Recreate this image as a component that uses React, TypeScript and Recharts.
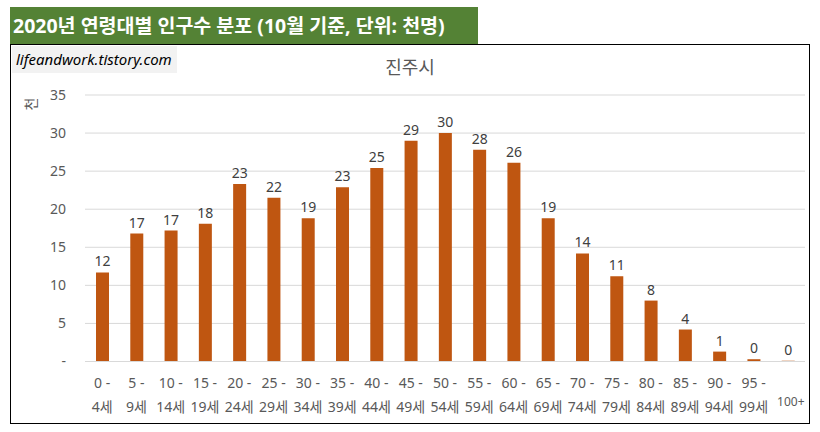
import { BarChart, Bar, XAxis, YAxis, CartesianGrid, LabelList } from 'recharts';

const ageGroups = [
  '0 - 4세', '5 - 9세', '10 - 14세', '15 - 19세', '20 - 24세', '25 - 29세', '30 - 34세',
  '35 - 39세', '40 - 44세', '45 - 49세', '50 - 54세', '55 - 59세', '60 - 64세', '65 - 69세',
  '70 - 74세', '75 - 79세', '80 - 84세', '85 - 89세', '90 - 94세', '95 - 99세', '100+',
];

// 천명 단위
const population = [
  11.7, 16.8, 17.2, 18.1, 23.3, 21.5, 18.8, 22.9, 25.4, 29.0, 30.0,
  27.8, 26.1, 18.8, 14.2, 11.2, 8.0, 4.2, 1.3, 0.3, 0.1,
];

const yTicks = [0, 5, 10, 15, 20, 25, 30, 35];

const data = ageGroups.map((age, i) => ({ age, value: population[i] }));

const FONT = '"Noto Sans", "Noto Sans CJK KR", sans-serif';
const GRAY = '#595959';

const AgeTick = (props: any) => {
  const { x, y, payload } = props;
  const label: string = payload.value;
  const parts = label.split(' - ');
  if (parts.length < 2) {
    return (
      <text x={x + 3} y={y + 44} textAnchor="middle" fontSize={12} fill={GRAY} fontFamily={FONT}>
        {label}
      </text>
    );
  }
  return (
    <g>
      <text x={x} y={y + 26.5} textAnchor="middle" fontSize={14} fill={GRAY} fontFamily={FONT}>
        {parts[0] + ' -'}
      </text>
      <text x={x} y={y + 50.5} textAnchor="middle" fontSize={14} fill={GRAY} fontFamily={FONT}>
        {parts[1]}
      </text>
    </g>
  );
};

export default function App() {
  return (
    <div style={{ position: 'absolute', left: 0, top: 0, width: 820, height: 432, background: '#fff', fontFamily: FONT }}>
      {/* frame */}
      <div
        style={{
          position: 'absolute',
          left: 10,
          top: 44,
          width: 800,
          height: 380,
          border: '1.5px solid #000',
          boxSizing: 'border-box',
        }}
      />

      {/* header */}
      <div
        style={{
          position: 'absolute',
          left: 10,
          top: 7,
          width: 468,
          height: 37,
          background: '#548235',
          color: '#fff',
          fontWeight: 700,
          fontSize: 19.5,
          lineHeight: '37px',
          paddingLeft: 3,
          boxSizing: 'border-box',
          whiteSpace: 'nowrap',
        }}
      >
        2020년 연령대별 인구수 분포 (10월 기준, 단위: 천명)
      </div>

      {/* watermark */}
      <div
        style={{
          position: 'absolute',
          left: 12,
          top: 46,
          width: 165,
          height: 27,
          background: '#f2f2f2',
          fontStyle: 'italic',
          fontSize: 15,
          lineHeight: '27px',
          paddingLeft: 4,
          boxSizing: 'border-box',
          color: '#000',
          whiteSpace: 'nowrap',
        }}
      >
        lifeandwork.tistory.com
      </div>

      {/* title */}
      <div
        style={{
          position: 'absolute',
          left: 10,
          width: 800,
          top: 54,
          textAlign: 'center',
          fontSize: 18,
          lineHeight: '26px',
          color: GRAY,
        }}
      >
        진주시
      </div>

      {/* unit label */}
      <div
        style={{
          position: 'absolute',
          left: 22,
          top: 95,
          width: 18,
          height: 18,
          fontSize: 14,
          lineHeight: '18px',
          textAlign: 'center',
          color: GRAY,
          transform: 'rotate(-90deg)',
        }}
      >
        천
      </div>

      <div style={{ position: 'absolute', left: 10, top: 44 }}>
        <BarChart
          width={800}
          height={380}
          data={data}
          margin={{ top: 51, right: 5, bottom: 0, left: 0 }}
          barCategoryGap={0}
        >
          <CartesianGrid vertical={false} stroke="#d9d9d9" />
          <XAxis
            dataKey="age"
            interval={0}
            height={62.5}
            axisLine={{ stroke: '#d9d9d9' }}
            tickLine={false}
            tickSize={0}
            tickMargin={0}
            tick={<AgeTick />}
          />
          <YAxis
            width={75}
            domain={[0, 35]}
            ticks={yTicks}
            axisLine={false}
            tickLine={false}
            tickSize={0}
            tickMargin={19}
            tick={{ fontSize: 14, fill: GRAY, fontFamily: FONT }}
            tickFormatter={(v: number) => (v === 0 ? '-' : String(v))}
          />
          <Bar dataKey="value" fill="#bf5611" barSize={13} isAnimationActive={false}>
            <LabelList
              dataKey="value"
              position="top"
              offset={6}
              fontSize={14}
              fill="#404040"
              fontFamily={FONT}
              formatter={(v: number) => Math.round(v)}
            />
          </Bar>
        </BarChart>
      </div>
    </div>
  );
}
